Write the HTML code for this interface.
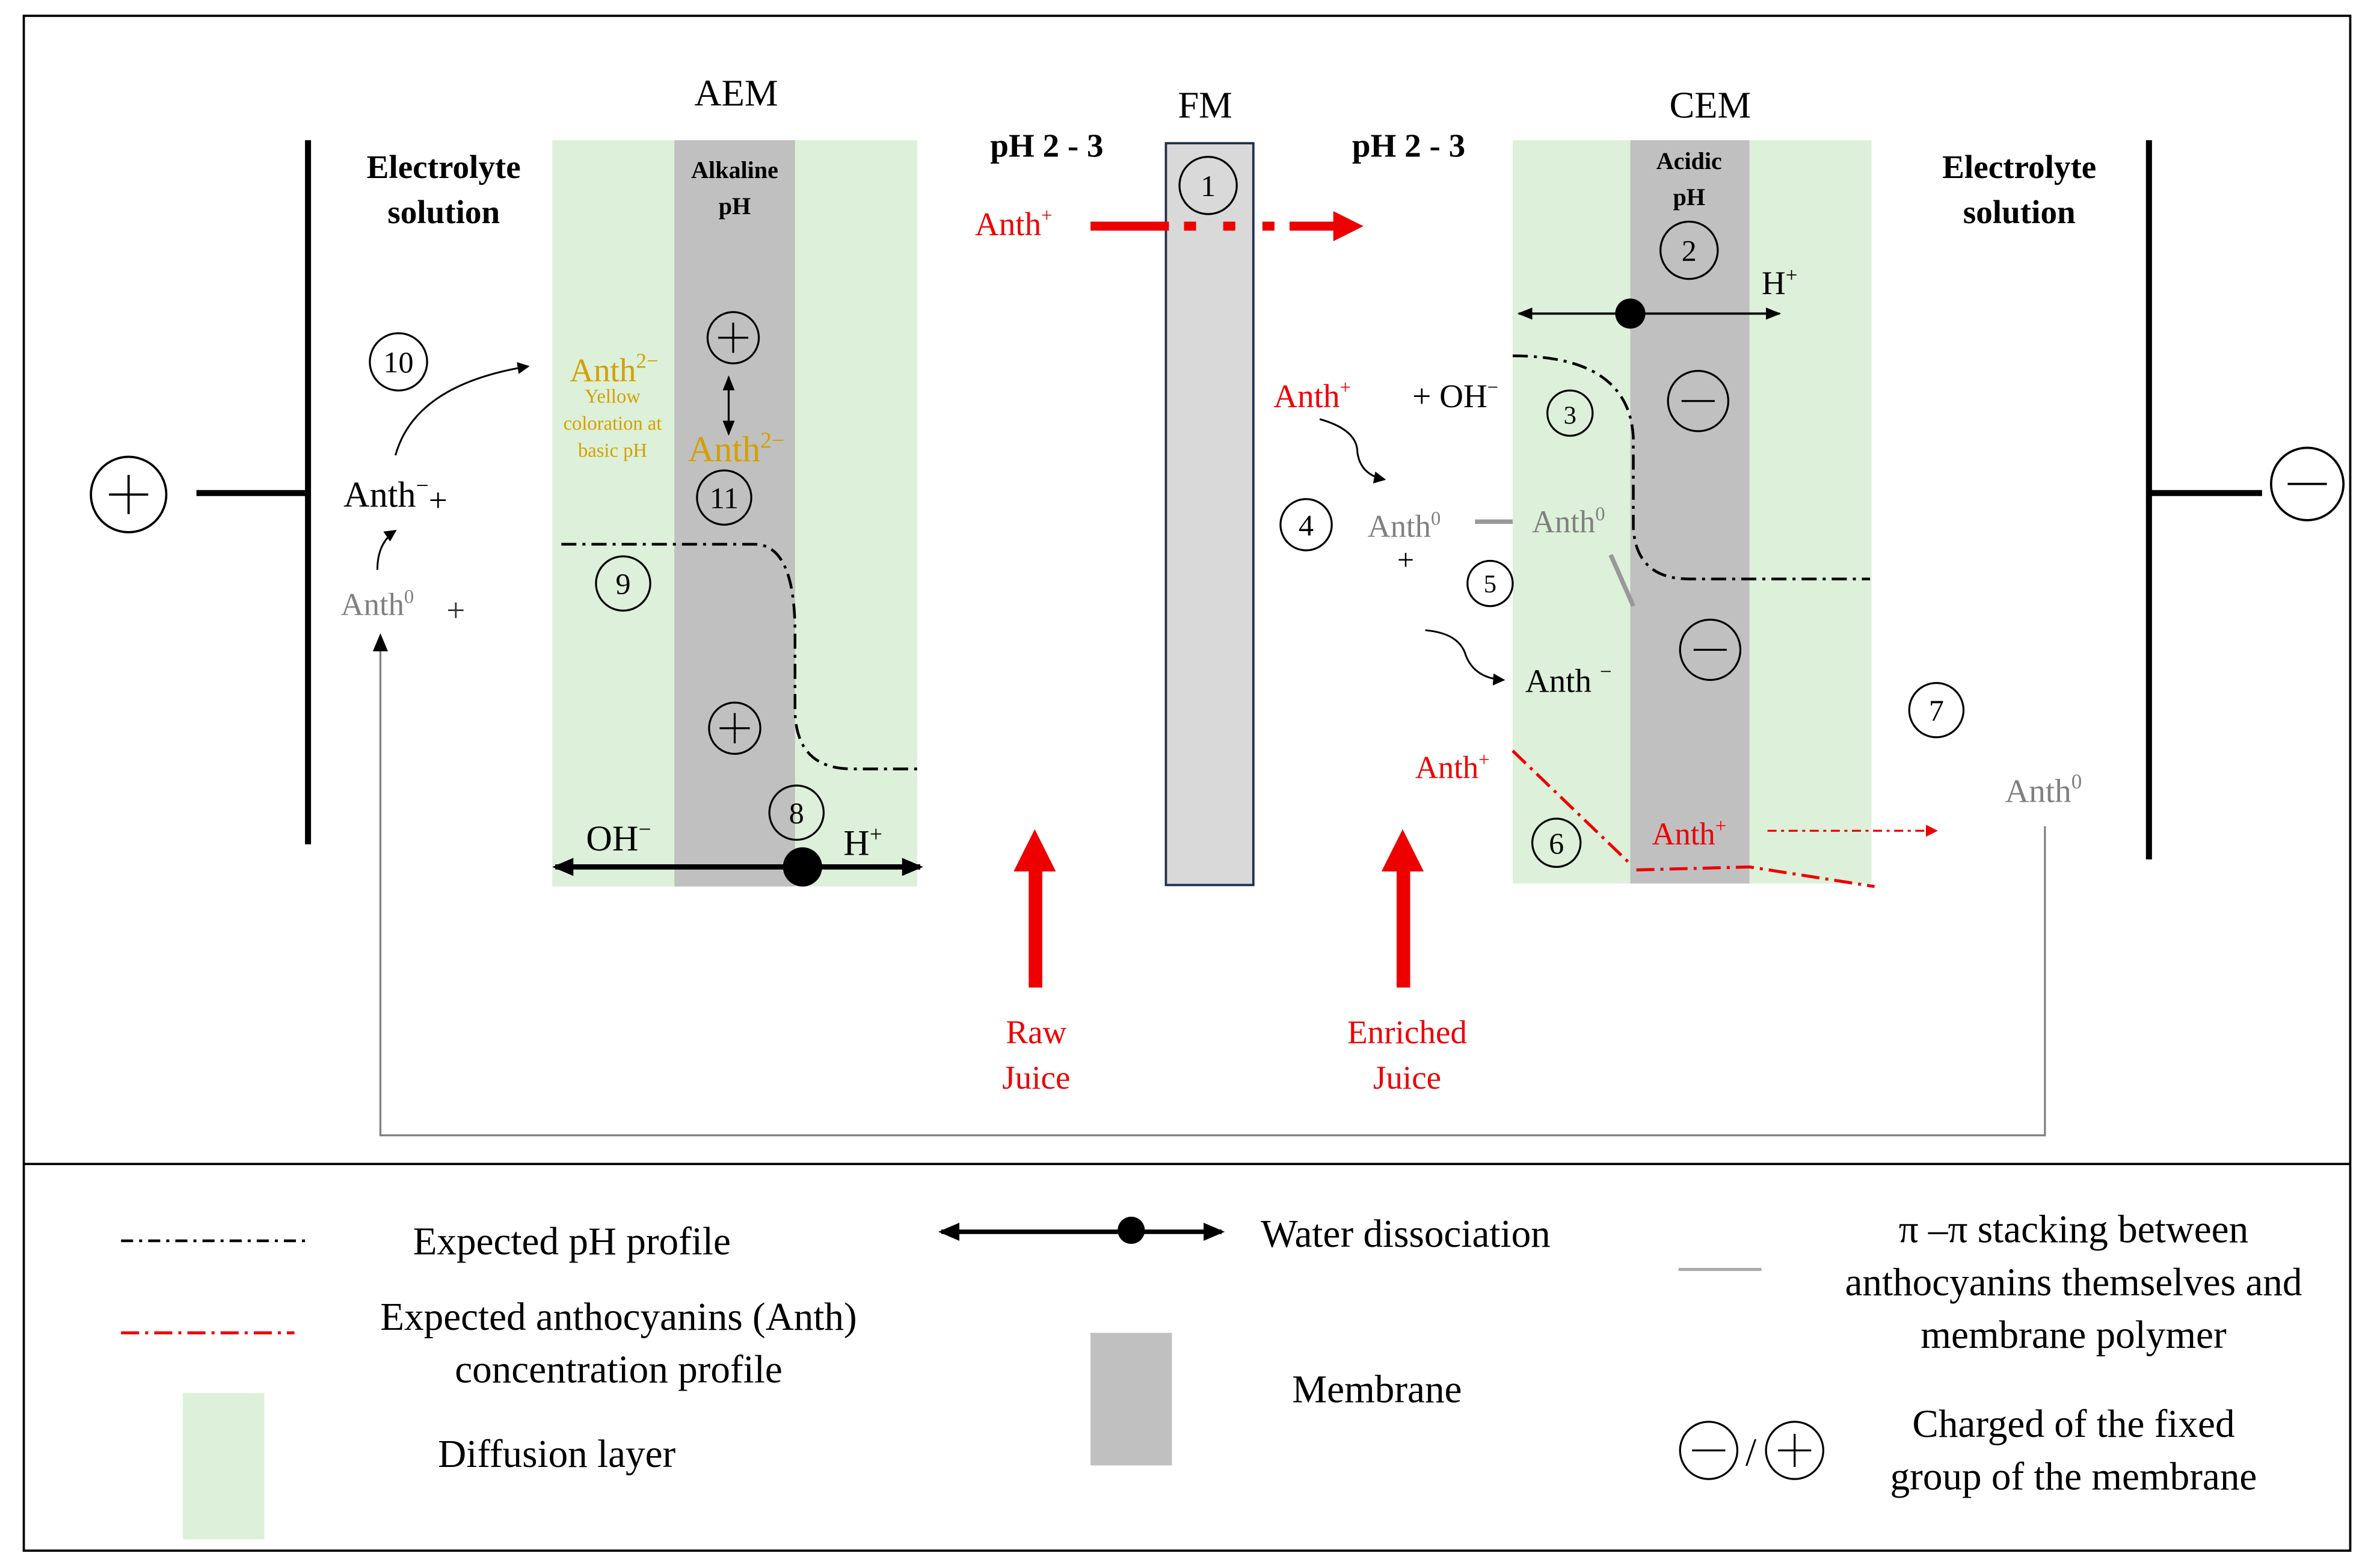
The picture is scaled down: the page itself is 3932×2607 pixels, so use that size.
<!DOCTYPE html>
<html><head><meta charset="utf-8"><style>
html,body{margin:0;padding:0;background:#fff}
svg{display:block}
text{font-family:"Liberation Serif",serif}
</style></head><body>
<svg width="3932" height="2607" viewBox="0 0 1568 1040" xmlns="http://www.w3.org/2000/svg">
<defs>
<marker id="ah" markerWidth="8" markerHeight="8" refX="7" refY="4" orient="auto" markerUnits="userSpaceOnUse"><path d="M0,0 L8,4 L0,8 z" fill="#000"/></marker>
<marker id="ahr" markerWidth="8" markerHeight="8" refX="7" refY="4" orient="auto" markerUnits="userSpaceOnUse"><path d="M0,0 L8,4 L0,8 z" fill="#e00"/></marker>
<marker id="ahb" markerWidth="14" markerHeight="12" refX="12" refY="6" orient="auto-start-reverse" markerUnits="userSpaceOnUse"><path d="M0,0 L14,6 L0,12 z" fill="#000"/></marker>
<marker id="ahs" markerWidth="10" markerHeight="8" refX="9" refY="4" orient="auto-start-reverse" markerUnits="userSpaceOnUse"><path d="M0,0 L10,4 L0,8 z" fill="#000"/></marker>
</defs>
<rect x="15.5" y="10.5" width="1543" height="1018" fill="#fff" stroke="#000" stroke-width="1.5"/>
<line x1="15" y1="772" x2="1558" y2="772" stroke="#000" stroke-width="1.5"/>

<!-- electrodes -->
<line x1="204" y1="93" x2="204" y2="560" stroke="#000" stroke-width="4"/>
<line x1="130" y1="327" x2="204" y2="327" stroke="#000" stroke-width="4"/>
<circle cx="85" cy="328" r="25" fill="none" stroke="#000" stroke-width="1.5"/>
<path d="M72,328 H98 M85,315 V341" stroke="#000" stroke-width="1.5"/>
<line x1="1425" y1="93" x2="1425" y2="570" stroke="#000" stroke-width="4"/>
<line x1="1425" y1="327" x2="1500" y2="327" stroke="#000" stroke-width="4"/>
<circle cx="1530" cy="321" r="24" fill="none" stroke="#000" stroke-width="1.5"/>
<path d="M1517,321 H1543" stroke="#000" stroke-width="1.5"/>

<!-- membranes -->
<rect x="366" y="93" width="242" height="495" fill="#ddf0d9"/>
<rect x="447" y="93" width="80" height="495" fill="#c0c0c0"/>
<rect x="1003" y="93" width="238" height="493" fill="#ddf0d9"/>
<rect x="1081" y="93" width="79" height="493" fill="#c0c0c0"/>
<rect x="773" y="95" width="58" height="492" fill="#d9d9d9" stroke="#1f2d50" stroke-width="1.5"/>

<g font-size="25" text-anchor="middle">
<text x="488" y="70">AEM</text><text x="799" y="78">FM</text><text x="1134" y="78">CEM</text>
</g>
<g font-size="22" font-weight="bold" text-anchor="middle">
<text x="694" y="104">pH 2 - 3</text><text x="934" y="104">pH 2 - 3</text>
<text x="294" y="118">Electrolyte</text><text x="294" y="148">solution</text>
<text x="1339" y="118">Electrolyte</text><text x="1339" y="148">solution</text>
</g>
<g font-size="16" font-weight="bold" text-anchor="middle">
<text x="487" y="118">Alkaline</text><text x="487" y="142">pH</text>
<text x="1120" y="112">Acidic</text><text x="1120" y="136">pH</text>
</g>

<!-- Anth+ across FM -->
<text x="672" y="156" font-size="22" fill="#e00" text-anchor="middle">Anth<tspan font-size="13" dy="-9">+</tspan></text>
<line x1="723" y1="150" x2="775" y2="150" stroke="#e00" stroke-width="6"/>
<line x1="775" y1="150" x2="855" y2="150" stroke="#e00" stroke-width="6" stroke-dasharray="8,18" stroke-dashoffset="-10"/>
<line x1="855" y1="150" x2="888" y2="150" stroke="#e00" stroke-width="6"/>
<path d="M884,140 L904,150 L884,160 z" fill="#e00"/>

<!-- numbered circles -->
<g fill="none" stroke="#000" stroke-width="1.3">
<circle cx="801" cy="123" r="19"/><circle cx="1120" cy="166" r="19"/><circle cx="1041" cy="274" r="15"/>
<circle cx="866" cy="348" r="17"/><circle cx="988" cy="387" r="15"/><circle cx="1032" cy="559" r="16"/>
<circle cx="1284" cy="471" r="18"/><circle cx="528" cy="539" r="18"/><circle cx="413" cy="387" r="18"/>
<circle cx="264" cy="240" r="19"/><circle cx="480" cy="330" r="18"/>
<circle cx="486" cy="224" r="17"/><circle cx="487" cy="483" r="17"/>
<circle cx="1126" cy="266" r="20"/><circle cx="1134" cy="431" r="20"/>
<path d="M476,224 H496 M486,214 V234 M477,483 H497 M487,473 V493 M1115,266 H1137 M1123,431 H1145"/>
</g>
<g font-size="20" text-anchor="middle">
<text x="801" y="130">1</text><text x="1120" y="173">2</text><text x="1041" y="281" font-size="17">3</text>
<text x="866" y="355">4</text><text x="988" y="393" font-size="17">5</text><text x="1032" y="566">6</text>
<text x="1284" y="478">7</text><text x="528" y="546">8</text><text x="413" y="394">9</text>
<text x="264" y="247">10</text><text x="480" y="337">11</text>
</g>

<!-- water dissociation -->
<line x1="1007" y1="208" x2="1180" y2="208" stroke="#000" stroke-width="1.5" marker-start="url(#ahs)" marker-end="url(#ahs)"/>
<circle cx="1081" cy="208" r="10" fill="#000"/>
<text x="1180" y="195" font-size="22" text-anchor="middle">H<tspan font-size="14" dy="-8">+</tspan></text>
<line x1="368" y1="575" x2="610" y2="575" stroke="#000" stroke-width="3.5" marker-start="url(#ahb)" marker-end="url(#ahb)"/>
<circle cx="532" cy="575" r="13" fill="#000"/>
<text x="410" y="564" font-size="24" text-anchor="middle">OH<tspan font-size="15" dy="-9">−</tspan></text>
<text x="572" y="567" font-size="24" text-anchor="middle">H<tspan font-size="15" dy="-9">+</tspan></text>

<!-- pH profiles -->
<path d="M372,361 H500 Q527,361 527,420 V470 Q527,510 565,510 H610" fill="none" stroke="#000" stroke-width="1.8" stroke-dasharray="10,4,2,4"/>
<path d="M1003,236 Q1080,236 1083,290 V350 Q1085,384 1120,384 H1240" fill="none" stroke="#000" stroke-width="1.8" stroke-dasharray="10,4,2,4"/>
<!-- red profile -->
<path d="M1003,498 L1081,573 M1085,577 L1160,575 L1243,588" fill="none" stroke="#e00" stroke-width="2" stroke-dasharray="12,4,2,4"/>

<!-- AEM texts -->
<text x="407" y="253" font-size="22" fill="#d4a000" text-anchor="middle">Anth<tspan font-size="14" dy="-9">2−</tspan></text>
<g font-size="13" fill="#d4a000" text-anchor="middle"><text x="406" y="267">Yellow</text><text x="406" y="285">coloration at</text><text x="406" y="303">basic pH</text></g>
<text x="488" y="306" font-size="24" fill="#d4a000" text-anchor="middle">Anth<tspan font-size="15" dy="-9">2−</tspan></text>
<line x1="483" y1="250" x2="483" y2="288" stroke="#000" stroke-width="1.3" marker-start="url(#ahs)" marker-end="url(#ahs)"/>

<text x="262" y="336" font-size="24" text-anchor="middle">Anth<tspan font-size="15" dy="-9">−</tspan><tspan dy="12" font-size="22">+</tspan></text>
<text x="250" y="408" font-size="21" fill="#808080" text-anchor="middle">Anth<tspan font-size="13" dy="-8">0</tspan></text>
<text x="302" y="412" font-size="22" fill="#333" text-anchor="middle">+</text>
<path d="M262,302 Q275,255 350,243" fill="none" stroke="#000" stroke-width="1.2" marker-end="url(#ah)"/>
<path d="M250,378 Q250,360 262,352" fill="none" stroke="#000" stroke-width="1.2" marker-end="url(#ah)"/>
<path d="M1356,548 V753 H252 V422" fill="none" stroke="#808080" stroke-width="1.3"/>
<path d="M247,432 L252,420 L257,432 z" fill="#000"/>

<!-- CEM left texts -->
<text x="870" y="270" font-size="22" fill="#e00" text-anchor="middle">Anth<tspan font-size="13" dy="-9">+</tspan></text>
<text x="965" y="270" font-size="22" text-anchor="middle">+ OH<tspan font-size="13" dy="-9">−</tspan></text>
<path d="M875,278 Q900,285 900,300 Q902,315 918,318" fill="none" stroke="#000" stroke-width="1.2" marker-end="url(#ah)"/>
<text x="931" y="356" font-size="21" fill="#808080" text-anchor="middle">Anth<tspan font-size="13" dy="-8">0</tspan></text>
<text x="932" y="378" font-size="20" text-anchor="middle">+</text>
<line x1="978" y1="346" x2="1003" y2="346" stroke="#999" stroke-width="3"/>
<text x="1040" y="353" font-size="21" fill="#808080" text-anchor="middle">Anth<tspan font-size="13" dy="-8">0</tspan></text>
<line x1="1068" y1="368" x2="1083" y2="402" stroke="#999" stroke-width="3"/>
<path d="M945,418 Q968,420 972,435 Q978,450 997,451" fill="none" stroke="#000" stroke-width="1.2" marker-end="url(#ah)"/>
<text x="1040" y="459" font-size="22" text-anchor="middle">Anth <tspan font-size="14" dy="-9">−</tspan></text>
<text x="963" y="516" font-size="21" fill="#e00" text-anchor="middle">Anth<tspan font-size="13" dy="-8">+</tspan></text>
<text x="1120" y="560" font-size="21" fill="#e00" text-anchor="middle">Anth<tspan font-size="13" dy="-8">+</tspan></text>
<line x1="1172" y1="551" x2="1284" y2="551" stroke="#e00" stroke-width="1.3" stroke-dasharray="6,3,2,3" marker-end="url(#ahr)"/>
<text x="1355" y="532" font-size="22" fill="#808080" text-anchor="middle">Anth<tspan font-size="14" dy="-9">0</tspan></text>

<!-- juice arrows -->
<rect x="682" y="575" width="9" height="80" fill="#e00"/><path d="M672,578 L686,550 L700,578 z" fill="#e00"/>
<rect x="926" y="575" width="9" height="80" fill="#e00"/><path d="M916,578 L930,550 L944,578 z" fill="#e00"/>
<g font-size="22" fill="#e00" text-anchor="middle">
<text x="687" y="692">Raw</text><text x="687" y="722">Juice</text>
<text x="933" y="692">Enriched</text><text x="933" y="722">Juice</text>
</g>

<!-- legend -->
<line x1="80" y1="823" x2="202" y2="823" stroke="#000" stroke-width="1.8" stroke-dasharray="8,4,2,4"/>
<line x1="80" y1="884" x2="195" y2="884" stroke="#e00" stroke-width="2" stroke-dasharray="12,4,2,4"/>
<rect x="121" y="924" width="54" height="97" fill="#ddf0d9"/>
<line x1="624" y1="817" x2="810" y2="817" stroke="#000" stroke-width="3" marker-start="url(#ahb)" marker-end="url(#ahb)"/>
<circle cx="750" cy="816" r="9" fill="#000"/>
<rect x="723" y="884" width="54" height="88" fill="#c0c0c0"/>
<line x1="1113" y1="842" x2="1168" y2="842" stroke="#aaa" stroke-width="2"/>
<circle cx="1133" cy="962" r="19" fill="none" stroke="#000" stroke-width="1.3"/>
<circle cx="1190" cy="962" r="19" fill="none" stroke="#000" stroke-width="1.3"/>
<path d="M1122,962 H1144 M1179,962 H1201 M1190,951 V973" stroke="#000" stroke-width="1.3"/>
<text x="1161" y="972" font-size="26" text-anchor="middle">/</text>
<g font-size="26" text-anchor="middle">
<text x="379" y="832">Expected pH profile</text>
<text x="410" y="882">Expected anthocyanins (Anth)</text>
<text x="410" y="917">concentration profile</text>
<text x="369" y="973">Diffusion layer</text>
<text x="932" y="827">Water dissociation</text>
<text x="913" y="930">Membrane</text>
<text x="1375" y="824">π –π stacking between</text>
<text x="1375" y="859">anthocyanins themselves and</text>
<text x="1375" y="894">membrane polymer</text>
<text x="1375" y="953">Charged of the fixed</text>
<text x="1375" y="988">group of the membrane</text>
</g>
</svg>
</body></html>
